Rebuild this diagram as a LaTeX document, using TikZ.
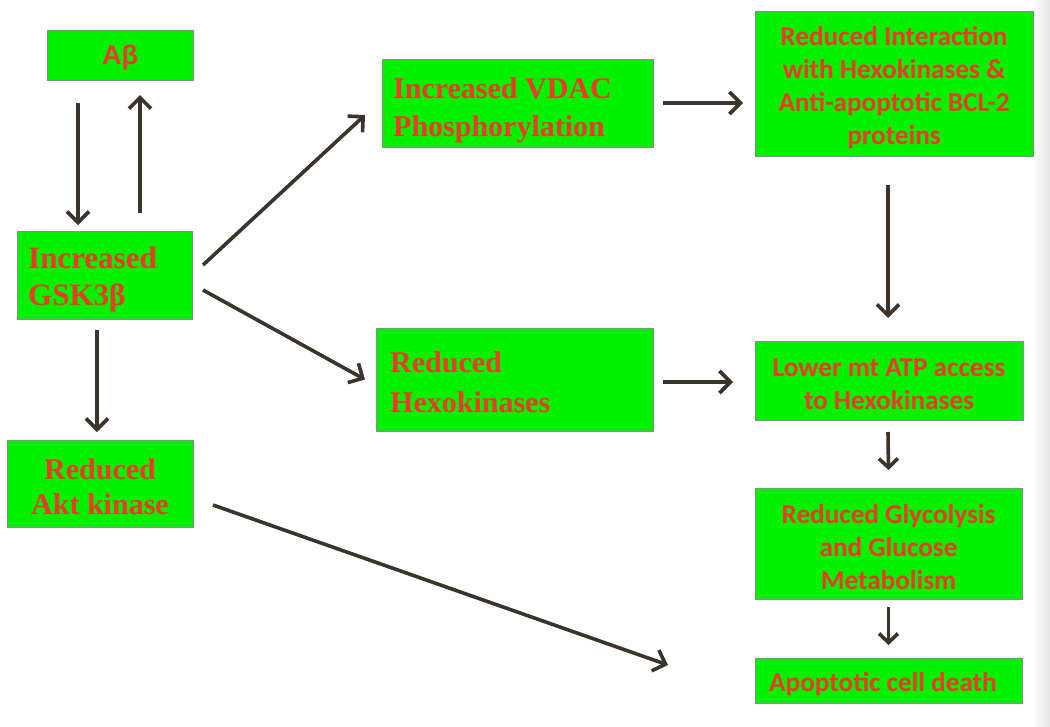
\documentclass[tikz,border=0pt]{standalone}
\usepackage{fontspec}
\usetikzlibrary{arrows.meta}
\newfontfamily\serifont{Liberation Serif}
\newfontfamily\sansfont{Liberation Sans}
\newfontfamily\calfont{Carlito}
\definecolor{boxgreen}{RGB}{0,240,0}
\definecolor{txtred}{RGB}{238,58,40}
\definecolor{arrowc}{RGB}{58,52,45}
\definecolor{edgec}{RGB}{140,140,130}
\tikzset{
  box/.style={draw=edgec, line width=1pt, fill=boxgreen, inner sep=0pt, outer sep=0pt},
  lbl/.style={text=txtred, inner sep=0pt},
  tnrbig/.style={font=\serifont\bfseries\fontsize{30}{38}\selectfont},
  calt/.style={font=\calfont\bfseries\fontsize{27.2}{33}\selectfont, align=center},
  arr/.style={draw=arrowc, line width=3.6pt, -{Straight Barb[length=11pt,width=22pt,line width=3.6pt]}},
  sarr/.style={draw=arrowc, line width=3.6pt, -{Straight Barb[length=9pt,width=19pt,line width=3.6pt]}},
}
\begin{document}
\begin{tikzpicture}[x=1pt,y=-1pt]
\useasboundingbox (0,0) rectangle (1050,726);
\fill[white] (0,0) rectangle (1050,726);
\shade[left color=white, right color=black!10] (1032,0) rectangle (1050,726);
% boxes
\node[box, minimum width=146, minimum height=50] (ab) at (120,55) {};
\node[box, minimum width=175, minimum height=88] (gsk) at (104.5,275) {};
\node[box, minimum width=186, minimum height=87] (akt) at (100,483.5) {};
\node[box, minimum width=271, minimum height=88] (vdac) at (517.5,103) {};
\node[box, minimum width=277, minimum height=103] (hexo) at (514.5,379.5) {};
\node[box, minimum width=278, minimum height=145] (inter) at (894,83.5) {};
\node[box, minimum width=268, minimum height=79] (lower) at (889,380.5) {};
\node[box, minimum width=267, minimum height=111] (glyc) at (888.5,543.5) {};
\node[box, minimum width=267, minimum height=45] (apop) at (888.5,680.5) {};
% labels
\node[lbl, font=\sansfont\bfseries\fontsize{27}{30}\selectfont] (abt) at ([yshift=-3pt]ab.center) {Aβ};
\node[lbl, anchor=west, align=left, font=\serifont\bfseries\fontsize{31}{37}\selectfont] (gskt) at ([xshift=11pt,yshift=-5pt]gsk.west) {Increased\\GSK3β};
\node[lbl, align=center, font=\serifont\bfseries\fontsize{30}{35}\selectfont] (aktt) at ([yshift=-3pt]akt.center) {Reduced\\Akt kinase};
\node[lbl, anchor=west, align=left, tnrbig] (vdact) at ([xshift=11pt,yshift=-7pt]vdac.west) {Increased VDAC\\Phosphorylation};
\node[lbl, anchor=west, align=left, font=\serifont\bfseries\fontsize{30}{40}\selectfont] (hexot) at ([xshift=14pt,yshift=-3pt]hexo.west) {Reduced\\Hexokinases};
\node[lbl, calt] (intert) at ([yshift=-4pt]inter.center) {Reduced Interaction\\with Hexokinases \&\\Anti-apoptotic BCL-2\\proteins};
\node[lbl, calt] (lowert) at ([yshift=-4pt]lower.center) {Lower mt ATP access\\to Hexokinases};
\node[lbl, calt] (glyct) at ([yshift=-4pt]glyc.center) {Reduced Glycolysis\\and Glucose\\Metabolism};
\node[lbl, calt, anchor=west] (apopt) at ([xshift=14pt,yshift=-4pt]apop.west) {Apoptotic cell death};
% arrows
\draw[arr] ([xshift=-42pt,yshift=-23pt]ab.south) -- ([xshift=-26.5pt,yshift=6pt]gsk.north);
\draw[arr] ([xshift=35.5pt,yshift=18pt]gsk.north) -- ([xshift=20pt,yshift=-15pt]ab.south);
\draw[arr] ([xshift=11pt,yshift=10pt]gsk.east) -- ([xshift=-17pt,yshift=-12pt]vdac.west);
\draw[arr] ([xshift=11pt,yshift=-15pt]gsk.east) -- ([xshift=-11pt]hexo.west);
\draw[arr] ([xshift=-7.5pt,yshift=-11pt]gsk.south) -- ([xshift=-3pt,yshift=8pt]akt.north);
\draw[arr] ([xshift=20pt,yshift=-21.5pt]akt.east) -- ([xshift=-87pt,yshift=15.5pt]apop.west);
\draw[arr] ([xshift=10pt]vdac.east) -- ([xshift=-12pt,yshift=-19.5pt]inter.west);
\draw[arr] ([xshift=-6pt,yshift=-29pt]inter.south) -- ([xshift=-1pt,yshift=23pt]lower.north);
\draw[arr] ([xshift=10pt,yshift=-2.5pt]hexo.east) -- ([xshift=-22pt,yshift=-1.5pt]lower.west);
\draw[sarr] ([xshift=-1pt,yshift=-12pt]lower.south) -- ([yshift=18pt]glyc.north);
\draw[sarr] ([yshift=-8pt]glyc.south) -- ([yshift=13pt]apop.north);
\end{tikzpicture}
\end{document}
